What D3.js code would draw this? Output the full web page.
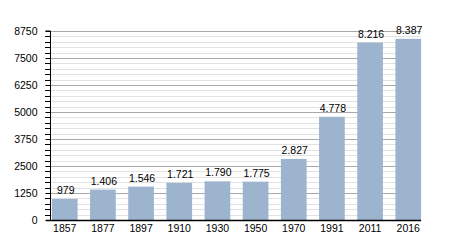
<!DOCTYPE html>
<html>
<head>
<meta charset="utf-8">
<script src="https://cdn.jsdelivr.net/npm/d3@7"></script>
<style>
  body { margin: 0; background: #fff; }
  svg { display: block; font-family: "Liberation Sans", Arial, sans-serif; }
</style>
</head>
<body>
<div id="chart"></div>
<script>
// population by census year
const years = ["1857", "1877", "1897", "1910", "1930", "1950", "1970", "1991", "2011", "2016"];
const population = [979, 1406, 1546, 1721, 1790, 1775, 2827, 4778, 8216, 8387];
const labels = ["979", "1.406", "1.546", "1.721", "1.790", "1.775", "2.827", "4.778", "8.216", "8.387"];
const majorTicks = [0, 1250, 2500, 3750, 5000, 6250, 7500, 8750];

const width = 450, height = 250;

const svg = d3.select("#chart").append("svg")
    .attr("width", width)
    .attr("height", height);

const x = d3.scaleBand()
    .domain(years)
    .range([50, 423])
    .paddingInner(0.327)
    .paddingOuter(0.05);

const y = d3.scaleLinear()
    .domain([0, 8750])
    .range([220, 31]);

const x0 = 50;
const x1 = x(years[years.length - 1]) + x.bandwidth();

// minor grid every 250
const minor = d3.range(0, 8751, 250).filter(v => v % 1250 !== 0);
svg.append("g")
    .selectAll("line")
    .data(minor)
    .join("line")
    .attr("x1", x0 - 5)
    .attr("x2", x1)
    .attr("y1", d => Math.round(y(d)) + 0.5)
    .attr("y2", d => Math.round(y(d)) + 0.5)
    .attr("stroke", "#e2e2e2");

// minor ticks on the axis side
svg.append("g")
    .selectAll("line")
    .data(minor)
    .join("line")
    .attr("x1", x0 - 5)
    .attr("x2", x0)
    .attr("y1", d => Math.round(y(d)) + 0.5)
    .attr("y2", d => Math.round(y(d)) + 0.5)
    .attr("stroke", "#000");

// major grid
svg.append("g")
    .selectAll("line")
    .data(majorTicks)
    .join("line")
    .attr("x1", x0)
    .attr("x2", x1)
    .attr("y1", d => Math.round(y(d)) + 0.5)
    .attr("y2", d => Math.round(y(d)) + 0.5)
    .attr("stroke", "#a8a8a8");

// bars
svg.append("g")
    .selectAll("rect")
    .data(population)
    .join("rect")
    .attr("x", (d, i) => x(years[i]))
    .attr("y", d => y(d))
    .attr("width", x.bandwidth())
    .attr("height", d => y(0) - y(d))
    .attr("fill", "#9cb4ce");

// value labels
svg.append("g")
    .selectAll("text")
    .data(population)
    .join("text")
    .attr("x", (d, i) => x(years[i]) + x.bandwidth() / 2 + 1)
    .attr("y", d => y(d) - 5)
    .attr("text-anchor", "middle")
    .attr("font-size", 10.5)
    .attr("fill", "#000")
    .text((d, i) => labels[i]);

// y axis
const yAxis = svg.append("g")
    .attr("transform", `translate(${x0 + 0.5},0)`)
    .call(d3.axisLeft(y).tickValues(majorTicks).tickFormat(d3.format("d")).tickSize(5).tickPadding(8));
yAxis.select(".domain").attr("stroke", "#000").attr("d", `M-5,${y(8750)}H0V${y(0)}`);
yAxis.selectAll("text")
    .attr("font-size", 10.5)
    .attr("font-family", "Liberation Sans, Arial, sans-serif")
    .attr("fill", "#000");
yAxis.selectAll(".tick line").attr("stroke", "#000");

// x axis
const xAxis = svg.append("g")
    .attr("transform", `translate(0,${y(0) + 0.5})`)
    .call(d3.axisBottom(x).tickSize(0).tickPadding(4));
xAxis.select(".domain").attr("stroke", "#000").attr("stroke-width", 1.3)
    .attr("d", `M${x0 - 4},0H${x1}`);
xAxis.selectAll("text")
    .attr("font-size", 10.5)
    .attr("font-family", "Liberation Sans, Arial, sans-serif")
    .attr("fill", "#000");
</script>
</body>
</html>
